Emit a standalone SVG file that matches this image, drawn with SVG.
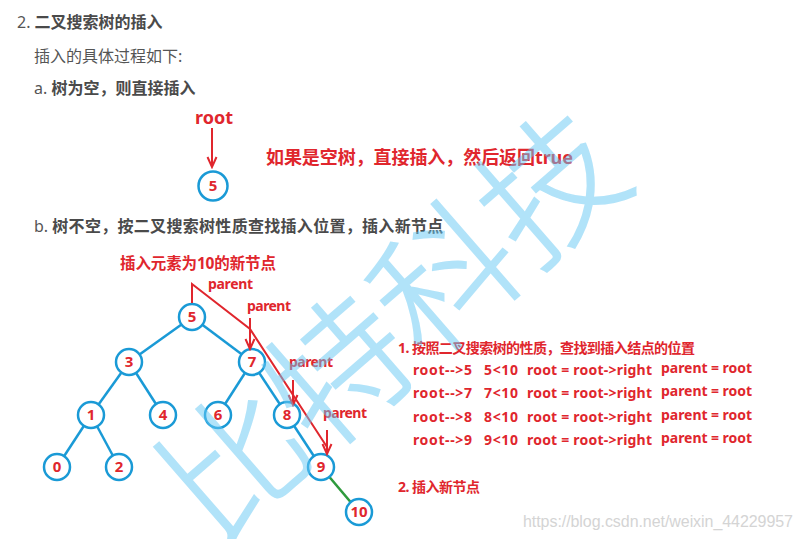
<svg xmlns="http://www.w3.org/2000/svg" width="804" height="539" viewBox="0 0 804 539">
<defs>
<style>
.h{font-family:"Noto Sans","Noto Sans CJK SC",sans-serif;font-size:16px;fill:#555}
.hb{font-weight:bold;fill:#4a4a4a}
.r{font-family:"Noto Sans","Noto Sans CJK SC",sans-serif;font-weight:bold;fill:#e0262d}
.nd circle{fill:#fff;stroke:#1a9ad6;stroke-width:2.5}
.nd text{font-family:"Noto Sans","Noto Sans CJK SC",sans-serif;font-weight:bold;font-size:15px;fill:#e0262d;text-anchor:middle}
.e{stroke:#1a9ad6;stroke-width:2.5;fill:none}
.ra{stroke:#e0262d;stroke-width:2;fill:none}
</style>
<marker id="ah" markerUnits="userSpaceOnUse" viewBox="-12 -6 14 12" refX="0" refY="0" markerWidth="14" markerHeight="12" orient="auto">
<path d="M-10,-4.5 L0,0 L-10,4.5" stroke="#e0262d" stroke-width="2" fill="none"/>
</marker>
</defs>
<rect width="804" height="539" fill="#fff"/>

<g id="headings">
<text class="h" x="17" y="28">2. <tspan class="hb">二叉搜索树的插入</tspan></text>
<text class="h" x="34" y="62" fill="#666">插入的具体过程如下:</text>
<text class="h" x="34" y="94">a. <tspan class="hb">树为空，则直接插入</tspan></text>
<text class="h" x="34" y="232">b. <tspan class="hb" textLength="391">树不空，按二叉搜索树性质查找插入位置，插入新节点</tspan></text>
</g>

<g id="empty-case">
<text class="r" x="195" y="124" font-size="18" textLength="38">root</text>
<text class="r" x="266" y="164" font-size="18" textLength="307">如果是空树，直接插入，然后返回true</text>
</g>
<g id="connectors">
<line class="ra" x1="212" y1="128" x2="212" y2="167" marker-end="url(#ah)"/>
<line class="e" x1="192" y1="317" x2="129" y2="362"/>
<line class="e" x1="192" y1="317" x2="252" y2="362"/>
<line class="e" x1="129" y1="362" x2="91" y2="415"/>
<line class="e" x1="129" y1="362" x2="163" y2="415"/>
<line class="e" x1="252" y1="362" x2="218" y2="415"/>
<line class="e" x1="252" y1="362" x2="287" y2="415"/>
<line class="e" x1="91" y1="415" x2="57" y2="467"/>
<line class="e" x1="91" y1="415" x2="119" y2="467"/>
<line class="e" x1="287" y1="415" x2="321" y2="467"/>
<line x1="321" y1="467" x2="359" y2="512" stroke="#2e9a3c" stroke-width="2.5"/>
</g>
<g id="node-root5" class="nd"><circle cx="213" cy="186" r="14.5"/><text x="213" y="191">5</text></g>

<g id="node-5" class="nd"><circle cx="192" cy="317" r="13"/><text x="192" y="322">5</text></g>
<g id="node-3" class="nd"><circle cx="129" cy="362" r="13"/><text x="129" y="367">3</text></g>
<g id="node-7" class="nd"><circle cx="252" cy="362" r="13"/><text x="252" y="367">7</text></g>
<g id="node-1" class="nd"><circle cx="91" cy="415" r="13"/><text x="91" y="420">1</text></g>
<g id="node-4" class="nd"><circle cx="163" cy="415" r="13"/><text x="163" y="420">4</text></g>
<g id="node-6" class="nd"><circle cx="218" cy="415" r="13"/><text x="218" y="420">6</text></g>
<g id="node-8" class="nd"><circle cx="287" cy="415" r="13"/><text x="287" y="420">8</text></g>
<g id="node-0" class="nd"><circle cx="57" cy="467" r="13"/><text x="57" y="472">0</text></g>
<g id="node-2" class="nd"><circle cx="119" cy="467" r="13"/><text x="119" y="472">2</text></g>
<g id="node-9" class="nd"><circle cx="321" cy="467" r="13"/><text x="321" y="472">9</text></g>
<g id="node-10" class="nd"><circle cx="359" cy="512" r="13"/><text x="359" y="517">10</text></g>

<g id="insert-path">
<text class="r" x="120" y="269" font-size="15.5" textLength="156">插入元素为10的新节点</text>
<polyline class="ra" points="192,303 192,284 250,329 327,447"/>
<text class="r" x="208" y="289" font-size="14" textLength="45">parent</text>
<text class="r" x="247" y="311" font-size="14" textLength="44">parent</text>
<text class="r" x="289" y="367" font-size="14" textLength="44">parent</text>
<text class="r" x="323" y="418" font-size="14" textLength="44">parent</text>
<line class="ra" x1="250" y1="318" x2="250" y2="349" marker-end="url(#ah)"/>
<line class="ra" x1="293" y1="380" x2="293" y2="405" marker-end="url(#ah)"/>
<line class="ra" x1="327" y1="430" x2="327" y2="454" marker-end="url(#ah)"/>
</g>

<g id="steps" font-size="14">
<text class="r" x="398" y="353" font-size="14" textLength="297">1. 按照二叉搜索树的性质，查找到插入结点的位置</text>
<g font-size="14">
<text class="r" x="413" y="375" textLength="59">root--&gt;5</text>
<text class="r" x="484" y="375" textLength="34">5&lt;10</text>
<text class="r" x="527" y="375" textLength="125">root = root-&gt;right</text>
<text class="r" x="661" y="373" textLength="91">parent = root</text>
<text class="r" x="413" y="398" textLength="59">root--&gt;7</text>
<text class="r" x="484" y="398" textLength="34">7&lt;10</text>
<text class="r" x="527" y="398" textLength="125">root = root-&gt;right</text>
<text class="r" x="661" y="396" textLength="91">parent = root</text>
<text class="r" x="413" y="422" textLength="59">root--&gt;8</text>
<text class="r" x="484" y="422" textLength="34">8&lt;10</text>
<text class="r" x="527" y="422" textLength="125">root = root-&gt;right</text>
<text class="r" x="661" y="420" textLength="91">parent = root</text>
<text class="r" x="413" y="445" textLength="59">root--&gt;9</text>
<text class="r" x="484" y="445" textLength="34">9&lt;10</text>
<text class="r" x="527" y="445" textLength="125">root = root-&gt;right</text>
<text class="r" x="661" y="443" textLength="91">parent = root</text>
</g>
<text class="r" x="398" y="492" font-size="14" textLength="82">2. 插入新节点</text>
</g>

<g id="watermarks">
<text x="523" y="527" font-family="Liberation Sans, Arial, sans-serif" font-size="16" fill="#d4d4d4" textLength="270">https://blog.csdn.net/weixin_44229957</text>
<text transform="translate(232,462) rotate(-41)" x="-69" y="53" font-family="Noto Sans CJK SC, sans-serif" font-weight="300" font-size="140" fill="#66c8f5" stroke="#66c8f5" stroke-width="1.5" opacity="0.5">比特科技</text>
</g>
</svg>
